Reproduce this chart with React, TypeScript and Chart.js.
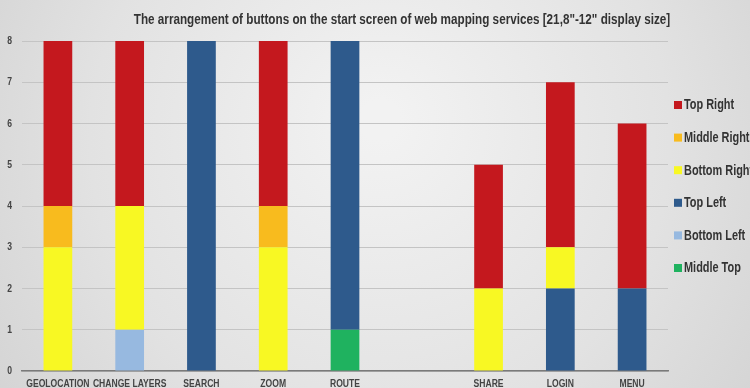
import React, { useEffect, useRef } from "react";
import { Chart, registerables } from "chart.js";

Chart.register(...registerables);

const TITLE = 'The arrangement of buttons on the start screen of web mapping services [21,8"-12" display size]';
const categories = ["GEOLOCATION", "CHANGE LAYERS", "SEARCH", "ZOOM", "ROUTE", "", "SHARE", "LOGIN", "MENU"];
const middleTop = [0, 0, 0, 0, 1, 0, 0, 0, 0];
const bottomLeft = [0, 1, 0, 0, 0, 0, 0, 0, 0];
const topLeft = [0, 0, 8, 0, 7, 0, 0, 2, 2];
const bottomRight = [3, 3, 0, 3, 0, 0, 2, 1, 0];
const middleRight = [1, 0, 0, 1, 0, 0, 0, 0, 0];
const topRight = [4, 4, 0, 4, 0, 0, 3, 4, 4];
const yTicks = [0, 1, 2, 3, 4, 5, 6, 7, 8];

const FONT = '"Liberation Sans", Arial, sans-serif';
const NARROW = 0.78;

const bgPlugin = {
  id: "bg",
  beforeDraw(chart: any) {
    const { ctx, width, height } = chart;
    ctx.save();
    const g = ctx.createRadialGradient(380, 120, 20, 380, 160, 560);
    g.addColorStop(0, "#f2f2f2");
    g.addColorStop(0.5, "#e2e2e2");
    g.addColorStop(1, "#cbcbcb");
    ctx.fillStyle = g;
    ctx.fillRect(0, 0, width, height);
    ctx.restore();
  },
};

const overlayPlugin = {
  id: "overlay",
  afterDraw(chart: any) {
    const { ctx, chartArea } = chart;
    ctx.save();
    // title
    ctx.fillStyle = "#333333";
    ctx.font = `bold 15px ${FONT}`;
    ctx.textAlign = "center";
    ctx.textBaseline = "middle";
    ctx.fillText(TITLE, 402, 20);
    // legend (reversed dataset order)
    const ds = chart.data.datasets.slice().reverse();
    ctx.font = `bold 14px ${FONT}`;
    ctx.textAlign = "left";
    ds.forEach((d: any, i: number) => {
      const y = 105 + i * 32.6;
      const x = chartArea.right + 6;
      ctx.fillStyle = d.backgroundColor;
      ctx.fillRect(x, y - 4, 8, 8);
      ctx.fillStyle = "#333333";
      ctx.fillText(d.label, x + 10, y + 0.5);
    });
    ctx.restore();
  },
};

function condense(ctx: any) {
  if (ctx.__condensed) return;
  ctx.__condensed = true;
  const origFill = ctx.fillText.bind(ctx);
  const origMeasure = ctx.measureText.bind(ctx);
  ctx.fillText = (text: string, x: number, y: number, maxWidth?: number) => {
    ctx.save();
    ctx.translate(x, y);
    ctx.scale(NARROW, 1);
    if (maxWidth !== undefined) origFill(text, 0, 0, maxWidth / NARROW);
    else origFill(text, 0, 0);
    ctx.restore();
  };
  ctx.measureText = (text: string) => {
    const m = origMeasure(text);
    return {
      width: m.width * NARROW,
      actualBoundingBoxAscent: m.actualBoundingBoxAscent,
      actualBoundingBoxDescent: m.actualBoundingBoxDescent,
      actualBoundingBoxLeft: m.actualBoundingBoxLeft * NARROW,
      actualBoundingBoxRight: m.actualBoundingBoxRight * NARROW,
    };
  };
}

export default function App() {
  const ref = useRef<HTMLCanvasElement>(null);
  useEffect(() => {
    document.body.style.margin = "0";
    condense(ref.current!.getContext("2d"));
    const mk = (label: string, data: number[], color: string) => ({
      label,
      data,
      backgroundColor: color,
      borderWidth: 0,
      categoryPercentage: 1,
      barPercentage: 0.4,
    });
    const chart = new Chart(ref.current!, {
      type: "bar",
      data: {
        labels: categories,
        datasets: [
          mk("Middle Top", middleTop, "#1fb25f"),
          mk("Bottom Left", bottomLeft, "#97b9e0"),
          mk("Top Left", topLeft, "#2e5a8c"),
          mk("Bottom Right", bottomRight, "#f8f823"),
          mk("Middle Right", middleRight, "#f8bb1e"),
          mk("Top Right", topRight, "#c4181e"),
        ],
      },
      options: {
        animation: false,
        responsive: false,
        maintainAspectRatio: false,
        layout: { padding: { left: 2, right: 82, top: 41, bottom: 0 } },
        plugins: {
          tooltip: { enabled: false },
          title: { display: false },
          legend: { display: false },
        },
        scales: {
          x: {
            stacked: true,
            grid: { display: false },
            border: { display: true, color: "#7a7a7a", width: 1.5 },
            ticks: {
              color: "#444444",
              font: { family: FONT, size: 11, weight: "bold" },
              maxRotation: 0,
              autoSkip: false,
              padding: -2,
            },
            afterFit: (s: any) => { s.height = 17; },
          },
          y: {
            stacked: true,
            min: 0,
            max: 8,
            afterBuildTicks: (s: any) => { s.ticks = yTicks.map((v) => ({ value: v })); },
            grid: { color: "#c4c4c4", lineWidth: 1, drawTicks: false },
            border: { display: false },
            ticks: {
              color: "#444444",
              font: { family: FONT, size: 11, weight: "bold" },
              padding: 10,
            },
            afterFit: (s: any) => { s.width = 20; },
          },
        },
      },
      plugins: [bgPlugin, overlayPlugin],
    });
    return () => chart.destroy();
  }, []);
  return <canvas ref={ref} width={750} height={388} style={{ display: "block" }} />;
}
